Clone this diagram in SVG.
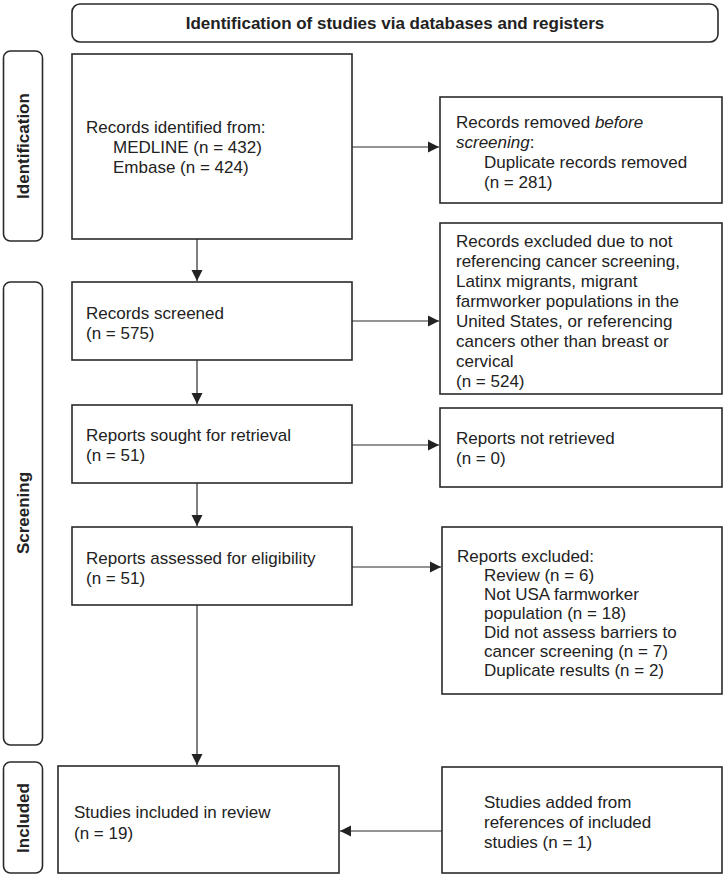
<svg xmlns="http://www.w3.org/2000/svg" width="726" height="878" viewBox="0 0 726 878">
<style>
.box{fill:#fff;stroke:#2a2a2a;stroke-width:1.6}
.side{fill:#fff;stroke:#2a2a2a;stroke-width:1.6}
.t{font-family:"Liberation Sans",Arial,sans-serif;font-size:17px;fill:#222}
.b{font-family:"Liberation Sans",Arial,sans-serif;font-size:17px;font-weight:bold;fill:#222}
.c{stroke:#2a2a2a;stroke-width:1.2;fill:none;marker-end:url(#ah)}
</style>
<defs>
<marker id="ah" markerWidth="12" markerHeight="12" viewBox="0 0 12 12" refX="11" refY="6" orient="auto" markerUnits="userSpaceOnUse">
<path d="M0,0.5 L11,6 L0,11.5 Z" fill="#222"/>
</marker>
</defs>
<rect width="726" height="878" fill="#fff"/>
<g id="banner">
<rect class="side" x="72" y="4" width="646" height="38" rx="8"/>
<text class="b" x="395" y="29" text-anchor="middle">Identification of studies via databases and registers</text>
</g>
<g id="side-identification">
<rect class="side" x="3.5" y="51" width="39" height="190" rx="7"/>
<text class="b" transform="translate(29,146) rotate(-90)" text-anchor="middle">Identification</text>
</g>
<g id="side-screening">
<rect class="side" x="3.5" y="282" width="39" height="463" rx="7"/>
<text class="b" transform="translate(29,513) rotate(-90)" text-anchor="middle">Screening</text>
</g>
<g id="side-included">
<rect class="side" x="3.5" y="762" width="39" height="111" rx="7"/>
<text class="b" transform="translate(29,818) rotate(-90)" text-anchor="middle">Included</text>
</g>
<g id="records-identified">
<rect class="box" x="72" y="54" width="280" height="185"/>
<text class="t" x="86" y="133">Records identified from:</text>
<text class="t" x="113" y="153">MEDLINE (n = 432)</text>
<text class="t" x="113" y="173">Embase (n = 424)</text>
</g>
<g id="records-removed">
<rect class="box" x="440" y="97" width="282" height="106"/>
<text class="t" x="456" y="128">Records removed <tspan font-style="italic">before</tspan></text>
<text class="t" x="456" y="148"><tspan font-style="italic">screening</tspan>:</text>
<text class="t" x="484" y="168">Duplicate records removed</text>
<text class="t" x="484" y="188">(n = 281)</text>
</g>
<g id="records-screened">
<rect class="box" x="72" y="282" width="280" height="78"/>
<text class="t" x="86" y="319">Records screened</text>
<text class="t" x="86" y="339">(n = 575)</text>
</g>
<g id="records-excluded">
<rect class="box" x="440" y="223" width="282" height="171"/>
<text class="t" x="456" y="247">Records excluded due to not</text>
<text class="t" x="456" y="267">referencing cancer screening,</text>
<text class="t" x="456" y="287">Latinx migrants, migrant</text>
<text class="t" x="456" y="307">farmworker populations in the</text>
<text class="t" x="456" y="327">United States, or referencing</text>
<text class="t" x="456" y="347">cancers other than breast or</text>
<text class="t" x="456" y="367">cervical</text>
<text class="t" x="456" y="387">(n = 524)</text>
</g>
<g id="reports-sought">
<rect class="box" x="72" y="405" width="280" height="78"/>
<text class="t" x="86" y="441">Reports sought for retrieval</text>
<text class="t" x="86" y="461">(n = 51)</text>
</g>
<g id="reports-not-retrieved">
<rect class="box" x="440" y="408" width="282" height="79"/>
<text class="t" x="456" y="444">Reports not retrieved</text>
<text class="t" x="456" y="464">(n = 0)</text>
</g>
<g id="reports-assessed">
<rect class="box" x="72" y="527" width="280" height="78"/>
<text class="t" x="86" y="564">Reports assessed for eligibility</text>
<text class="t" x="86" y="584">(n = 51)</text>
</g>
<g id="reports-excluded">
<rect class="box" x="442" y="527" width="280" height="167"/>
<text class="t" x="457" y="562">Reports excluded:</text>
<text class="t" x="484" y="581">Review (n = 6)</text>
<text class="t" x="484" y="600">Not USA farmworker</text>
<text class="t" x="484" y="619">population (n = 18)</text>
<text class="t" x="484" y="638">Did not assess barriers to</text>
<text class="t" x="484" y="657">cancer screening (n = 7)</text>
<text class="t" x="484" y="676">Duplicate results (n = 2)</text>
</g>
<g id="studies-included">
<rect class="box" x="58" y="766" width="281" height="107"/>
<text class="t" x="74" y="818">Studies included in review</text>
<text class="t" x="74" y="839">(n = 19)</text>
</g>
<g id="studies-added">
<rect class="box" x="442" y="767" width="280" height="106"/>
<text class="t" x="484" y="808">Studies added from</text>
<text class="t" x="484" y="828">references of included</text>
<text class="t" x="484" y="848">studies (n = 1)</text>
</g>
<g id="connectors">
<line class="c" x1="352" y1="147" x2="439" y2="147"/>
<line class="c" x1="197" y1="239" x2="197" y2="281"/>
<line class="c" x1="352" y1="321" x2="439" y2="321"/>
<line class="c" x1="197" y1="360" x2="197" y2="404"/>
<line class="c" x1="352" y1="445" x2="439" y2="445"/>
<line class="c" x1="197" y1="483" x2="197" y2="526"/>
<line class="c" x1="352" y1="567" x2="441" y2="567"/>
<line class="c" x1="197" y1="605" x2="197" y2="765"/>
<line class="c" x1="442" y1="831" x2="340" y2="831"/>
</g>
</svg>
